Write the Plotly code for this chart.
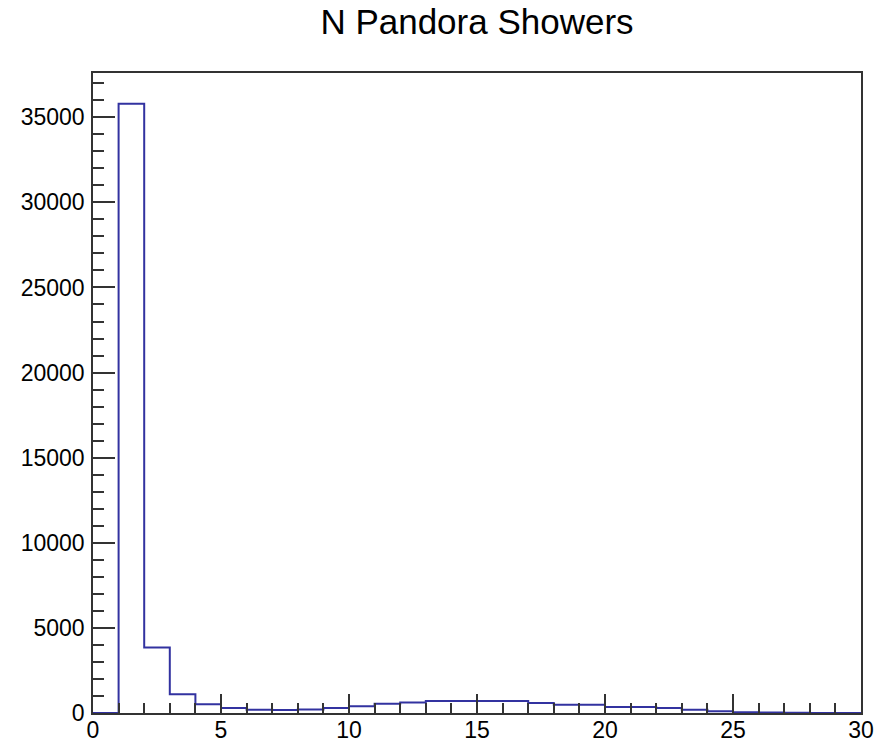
import plotly.graph_objects as go

# Histogram: N Pandora Showers, 30 bins of width 1 from 0 to 30
bin_edges = list(range(0, 31))
counts = [0, 35800, 3850, 1100, 520, 290, 190, 180, 210, 290,
          390, 545, 620, 705, 705, 705, 705, 590, 490, 490,
          350, 350, 295, 195, 100, 50, 30, 20, 5, 0]

x_ticks = [0, 5, 10, 15, 20, 25, 30]
y_ticks = [0, 5000, 10000, 15000, 20000, 25000, 30000, 35000]

xs = bin_edges
ys = counts + [counts[-1]]

fig = go.Figure()
fig.add_trace(go.Scatter(
    x=xs, y=ys, mode="lines", line_shape="hv",
    line=dict(color="rgb(50,50,160)", width=2),
    hoverinfo="skip", showlegend=False,
))

axis_common = dict(
    showgrid=False, zeroline=False, showline=True, mirror=True,
    linecolor="#333333", linewidth=1.5, automargin=False,
    ticks="inside", tickcolor="#333333", tickwidth=1.5,
    tickfont=dict(family="Liberation Sans, Arial, Helvetica, sans-serif", size=23, color="black"),
)

fig.update_xaxes(
    range=[0, 30], tickvals=x_ticks, ticktext=[str(v) for v in x_ticks],
    ticklen=19, ticklabelstandoff=-4,
    minor=dict(ticks="inside", ticklen=10, dtick=1, tick0=0, tickcolor="#333333", tickwidth=1.5, showgrid=False),
    **axis_common,
)
fig.update_yaxes(
    range=[0, 37600], tickvals=y_ticks, ticktext=[str(v) for v in y_ticks],
    ticklen=22, ticklabelstandoff=2,
    minor=dict(ticks="inside", ticklen=11, dtick=1000, tick0=0, tickcolor="#333333", tickwidth=1.5, showgrid=False),
    **axis_common,
)

fig.update_layout(
    width=887, height=744,
    margin=dict(l=93, r=26, t=73, b=31),
    paper_bgcolor="white", plot_bgcolor="white",
    title=dict(
        text="N Pandora Showers", x=0.5, xref="paper",
        y=1 - 22 / 744, yref="container", yanchor="middle",
        font=dict(family="Liberation Sans, Arial, Helvetica, sans-serif", size=35, color="black"),
    ),
)

fig.write_html("out.html")
